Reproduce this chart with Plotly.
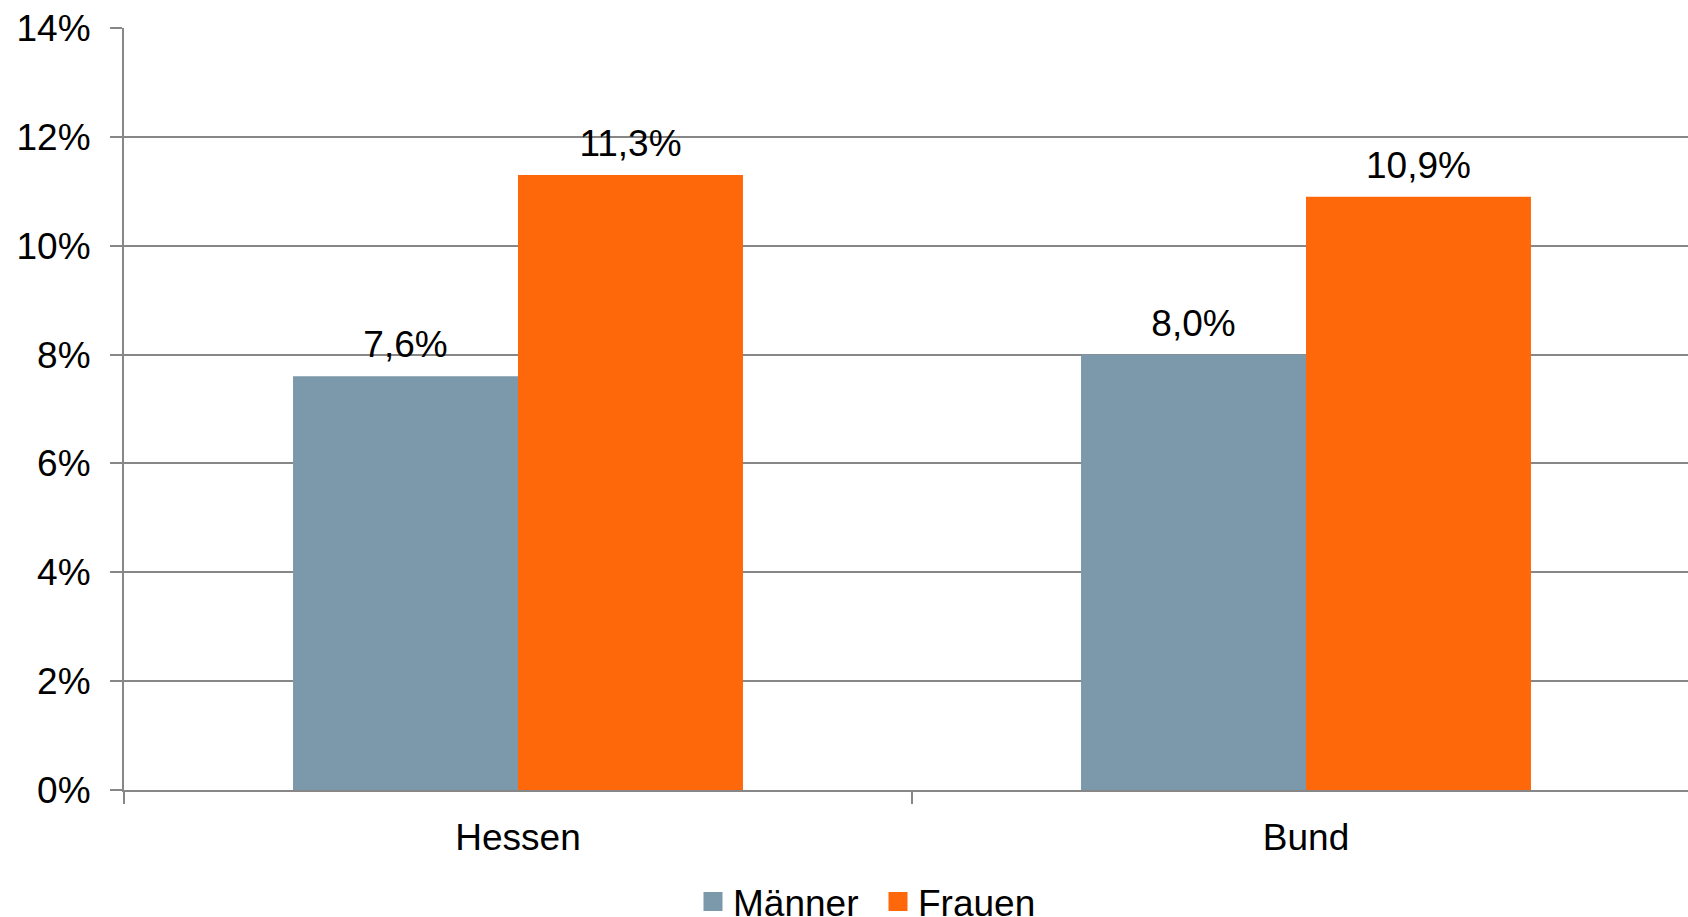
import plotly.graph_objects as go

categories = ["Hessen", "Bund"]
maenner = [7.6, 8.0]
frauen = [11.3, 10.9]
y_ticks = [0, 2, 4, 6, 8, 10, 12, 14]
y_tick_labels = ["0%", "2%", "4%", "6%", "8%", "10%", "12%", "14%"]

C_M = "#7B99AA"
C_F = "#FF680A"
GRID = "#878787"
FONT = "Liberation Sans, Arial, sans-serif"
FS = 37

fig = go.Figure()
for name, vals, col, grp in [("Männer", maenner, C_M, "m"), ("Frauen", frauen, C_F, "f")]:
    fig.add_trace(go.Bar(
        x=categories, y=vals, name=name, offsetgroup=grp,
        marker=dict(color=col, line=dict(width=0)),
        showlegend=False, hoverinfo="skip",
    ))
    fig.add_trace(go.Scatter(
        x=categories, y=vals, mode="markers+text", offsetgroup=grp,
        texttemplate="%{y:.1f}%", textposition="top center",
        textfont=dict(size=FS, color="black", family=FONT),
        marker=dict(size=14, color="rgba(0,0,0,0)"),
        cliponaxis=False, showlegend=False, hoverinfo="skip",
    ))
    fig.add_trace(go.Scatter(
        x=[None], y=[None], mode="markers", name=name, offsetgroup=grp,
        marker=dict(symbol="square", size=16, color=col, line=dict(width=3, color=col)),
        showlegend=True,
    ))

W, H = 1688, 917
L, R, T, B = 124, 0, 28, 127
plot_w = W - L - R
plot_h = H - T - B
cat_px = 788
fig.update_layout(
    width=W, height=H,
    margin=dict(l=L, r=R, t=T, b=B, pad=0, autoexpand=False),
    paper_bgcolor="white", plot_bgcolor="white",
    separators=",.",
    barmode="group", bargap=0.429, bargroupgap=0,
    scattermode="group", scattergap=0.429,
    font=dict(family=FONT, size=FS, color="black"),
    xaxis=dict(
        type="category", range=[-0.5, -0.5 + plot_w / cat_px],
        showline=True, linecolor=GRID, linewidth=2,
        ticks="outside", tickson="boundaries", ticklen=12, tickwidth=2, tickcolor=GRID,
        ticklabelstandoff=14,
        showgrid=False, tickfont=dict(size=FS, family=FONT, color="black"),
    ),
    yaxis=dict(
        range=[0, 14], tickmode="array", tickvals=y_ticks, ticktext=y_tick_labels,
        showline=True, linecolor=GRID, linewidth=2,
        showgrid=True, gridcolor=GRID, gridwidth=2, zeroline=False,
        ticks="outside", ticklen=12, tickwidth=2, tickcolor=GRID,
        ticklabelstandoff=12,
        tickfont=dict(size=FS, family=FONT, color="black"),
    ),
    legend=dict(
        orientation="h", x=(693 - L) / plot_w, xanchor="left",
        y=(plot_h + T - 902) / plot_h, yanchor="middle",
        entrywidth=140,
        font=dict(size=FS, family=FONT, color="black"),
        bgcolor="rgba(0,0,0,0)", borderwidth=0,
    ),
)

fig.write_html("out.html")
